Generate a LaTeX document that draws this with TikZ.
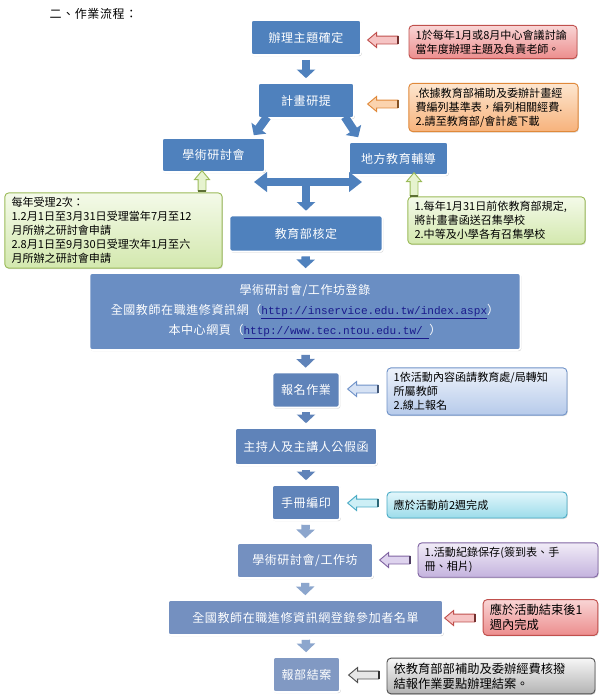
\documentclass[tikz,border=0pt]{standalone}
\usepackage{fontspec}
\setmainfont{Noto Sans CJK TC}
\newfontfamily\boxfont[LetterSpace=5]{Noto Sans CJK TC}
\newfontfamily\urlfont{Liberation Mono}
\usepackage{xcolor}
\usepackage{tikz}
\usetikzlibrary{positioning, arrows.meta, shapes.arrows, shadows, calc}

\newdimen\pxu \pxu=0.75pt
\newcommand{\weblink}[1]{{\color{linkblue}\underline{\urlfont\fontsize{8.3}{15}\selectfont #1}}}

% boxes and flow arrows
\definecolor{stepblue}{HTML}{4F81BD}
\definecolor{bigblue}{HTML}{6A8EC3}
\definecolor{midblue}{HTML}{5F83B9}
\definecolor{paleblue}{HTML}{7490C0}
\definecolor{fadeblue}{HTML}{8199C3}
\definecolor{flowpale}{HTML}{8CA6CD}
\definecolor{linkblue}{HTML}{1A1A8C}
% callouts
\definecolor{redtop}{HTML}{F9D5D5}    \definecolor{redbot}{HTML}{EC8D8D}
\definecolor{redline}{HTML}{C0504D}   \definecolor{redfill}{HTML}{F6C4C4}
\definecolor{orangetop}{HTML}{FDE6CF} \definecolor{orangebot}{HTML}{F7B27B}
\definecolor{orangeline}{HTML}{E0893A}\definecolor{orangefill}{HTML}{FBD3AE}
\definecolor{greentop}{HTML}{F4FAE9}  \definecolor{greenbot}{HTML}{D3E8AE}
\definecolor{greenline}{HTML}{9BBB59} \definecolor{greenfill}{HTML}{E6F3CF}
\definecolor{bluetop}{HTML}{EEF3FB}   \definecolor{bluebot}{HTML}{B6CAEA}
\definecolor{blueline}{HTML}{6F92C8}  \definecolor{bluefill}{HTML}{D6E2F4}
\definecolor{cyantop}{HTML}{E2F6FB}   \definecolor{cyanbot}{HTML}{9CDCEA}
\definecolor{cyanline}{HTML}{4BACC6}  \definecolor{cyanfill}{HTML}{CDEFF6}
\definecolor{purptop}{HTML}{F1ECF7}   \definecolor{purpbot}{HTML}{C4B3DE}
\definecolor{purpline}{HTML}{8064A2}  \definecolor{purpfill}{HTML}{DED3EE}
\definecolor{graytop}{HTML}{F6F6F6}   \definecolor{graybot}{HTML}{B3B3B3}
\definecolor{grayline}{HTML}{505050}  \definecolor{grayfill}{HTML}{E6E6E6}

\begin{document}
\begin{tikzpicture}[x=0.75pt, y=-0.75pt,
    stage/.style={draw=white, line width=1.2pt, rounded corners=2pt, fill=#1, text=white,
        font=\boxfont\fontsize{9}{11}\selectfont, minimum height=35\pxu,
        drop shadow={opacity=0.3, shadow xshift=0.7pt, shadow yshift=-0.9pt}},
    stage/.default=stepblue,
    note/.style={top color=#1top, bottom color=#1bot, draw=#1line, rounded corners=4\pxu,
        line width=0.7pt, align=left, inner xsep=5pt, font=\fontsize{8.3}{10.5}\selectfont,
        drop shadow={opacity=0.25, shadow xshift=0.6pt, shadow yshift=-0.8pt}},
    hint/.style={single arrow, fill=#1fill, draw=#1line, line width=0.7pt,
        minimum height=30\pxu, minimum width=14\pxu, inner sep=3.5\pxu,
        single arrow head extend=3.5\pxu, single arrow tip angle=80, shape border rotate=180},
    hintup/.style={hint=#1, shape border rotate=90, minimum height=20\pxu},
    flow/.style={draw=#1, line width=6.3pt, -{Triangle[length=6.5pt, width=13.5pt]},
        shorten <=3pt, shorten >=3pt},
    flow/.default=stepblue]

    \fill[white] (0,0) rectangle (606,700);
    \useasboundingbox (0,0) rectangle (606,700);

    \node[anchor=west, font=\boxfont\fontsize{9}{11}\selectfont] (title) at (45,14) {二、作業流程：};

    % main column
    \node[stage, minimum width=110\pxu] (b1) at (306,37.5) {辦理主題確定};
    \node[stage, minimum width=96\pxu] (b2) at (306,100.5) {計畫研提};
    \node[stage, minimum width=103\pxu, minimum height=34\pxu] (b3) at (213.5,155) {學術研討會};
    \node[stage, minimum width=99\pxu, minimum height=33\pxu] (b4) at (398.5,158.5) {地方教育輔導};
    \node[stage, minimum width=153\pxu, minimum height=36\pxu] (b5) at (306,233.5) {教育部核定};
    \node[stage=bigblue, minimum width=431\pxu, minimum height=77\pxu, align=center,
          font=\boxfont\fontsize{9}{15}\selectfont] (b6) at (305,311.5)
        {學術研討會/工作坊登錄\\
         全國教師在職進修資訊網（\weblink{http://inservice.edu.tw/index.aspx}）\\
         本中心網頁（\weblink{http://www.tec.ntou.edu.tw/\ }）};
    \node[stage=midblue, minimum width=67\pxu] (b7) at (306,390) {報名作業};
    \node[stage=midblue, minimum width=142\pxu, minimum height=37\pxu] (b8) at (306,446.5) {主持人及主講人公假函};
    \node[stage=midblue, minimum width=68\pxu] (b9) at (306,502.5) {手冊編印};
    \node[stage=paleblue, minimum width=136\pxu] (b10) at (305,560.5) {學術研討會/工作坊};
    \node[stage=paleblue, minimum width=275\pxu] (b11) at (305.5,617.5) {全國教師在職進修資訊網登錄參加者名單};
    \node[stage=fadeblue, minimum width=67\pxu] (b12) at (306.5,674.5) {報部結案};

    % callouts
    \node[note=red, text width=116pt, minimum height=30\pxu] (c1) at (493,42)
        {1於每年1月或8月中心會議討論\\當年度辦理主題及負責老師。};
    \node[note=orange, text width=117pt, minimum height=45\pxu] (c2) at (493.5,107.5)
        {.依據教育部補助及委辦計畫經\\費編列基準表，編列相關經費.\\2.請至教育部/會計處下載};
    \node[note=green, text width=153pt, minimum height=75\pxu] (c3) at (113.5,230.5)
        {每年受理2次：\\1.2月1日至3月31日受理當年7月至12\\月所辦之研討會申請\\2.8月1日至9月30日受理次年1月至六\\月所辦之研討會申請};
    \node[note=green, text width=123pt, minimum height=45\pxu] (c4) at (496.5,220.5)
        {1.每年1月31日前依教育部規定,\\將計畫書函送召集學校\\2.中等及小學各有召集學校};
    \node[note=blue, text width=125pt, minimum height=47\pxu] (c7) at (477,391.5)
        {1依活動內容函請教育處/局轉知\\所屬教師\\2.線上報名};
    \node[note=cyan, text width=125pt, minimum height=26\pxu] (c9) at (477,505)
        {應於活動前2週完成};
    \node[note=purp, text width=125pt, minimum height=34\pxu] (c10) at (508,560)
        {1.活動紀錄保存(簽到表、手\\冊、相片)};
    \node[note=red, text width=76pt, minimum height=35\pxu, font=\fontsize{9.2}{11.5}\selectfont] (c11) at (540.5,617.5)
        {應於活動結束後1\\週內完成};
    \node[note=gray, text width=146pt, minimum height=32\pxu, font=\fontsize{9.2}{11.5}\selectfont] (c12) at (491,676)
        {依教育部部補助及委辦經費核撥\\結報作業要點辦理結案。};

    % hollow pointers from the callouts
    \node[hint=red] (h1) at (385,40) {};
    \node[hint=orange] (h2) at (385,104) {};
    \node[hintup=green] (h3) at (202,183) {};
    \node[hintup=green, minimum height=23\pxu] (h4) at (414,186.5) {};
    \node[hint=blue] (h7) at (365,389) {};
    \node[hint=cyan] (h9) at (365,503) {};
    \node[hint=purp] (h10) at (397,560) {};
    \node[hint=red] (h11) at (462,618) {};
    \node[hint=gray] (h12) at (366,675) {};
    \foreach \h/\c in {h1/redline, h2/orangeline, h3/greenline, h4/greenline, h7/blueline,
                       h9/cyanline, h10/purpline, h11/redline, h12/grayline}
        \draw[line width=1.5pt, \c!60!black] (\h.before tail) -- (\h.after tail);

    % flow
    \coordinate (jl) at (254,182);
    \coordinate (jr) at (362,182);
    \coordinate (jm) at (306,182);
    \draw[flow] (b1) -- (b2);
    \draw[flow, shorten <=0pt, shorten >=0pt] ($(b2.south west)+(10,-2)$) -- ($(b3.north east)+(-12,-2)$);
    \draw[flow, shorten <=0pt, shorten >=0pt] ($(b2.south east)+(-10,-2)$) -- ($(b4.north west)+(10,-4)$);
    \draw[flow, {Triangle[length=9.75pt, width=14.5pt]}-{Triangle[length=9.75pt, width=14.5pt]},
          shorten <=0pt, shorten >=0pt] (jl) -- (jr);
    \draw[flow, shorten <=0pt] (jm) -- (b5);
    \draw[flow] (b5) -- (b6);
    \draw[flow=midblue] (b6) -- (b7);
    \draw[flow=midblue] (b7) -- (b8);
    \draw[flow=midblue] (b8) -- (b9);
    \draw[flow=flowpale] (b9) -- (b10);
    \draw[flow=flowpale] (b10) -- (b11);
    \draw[flow=flowpale] (b11) -- (b12);
\end{tikzpicture}
\end{document}
